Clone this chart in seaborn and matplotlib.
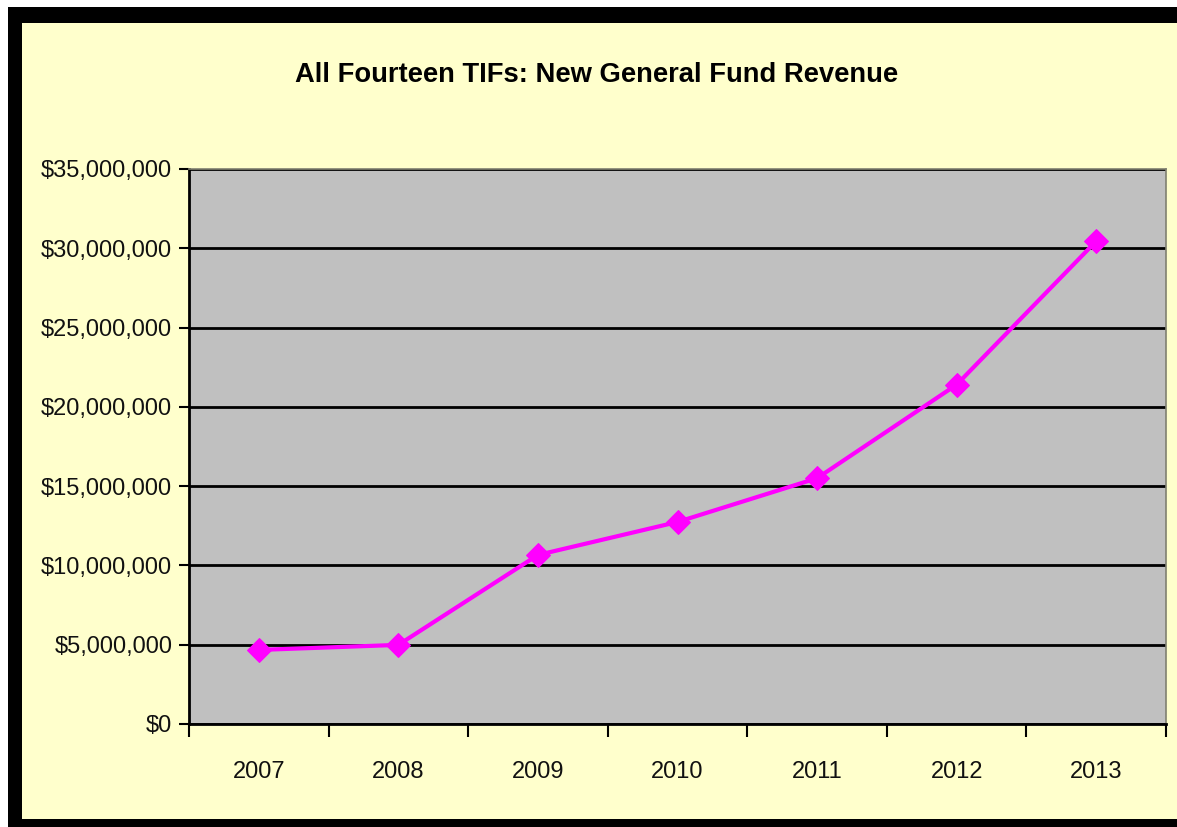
import matplotlib
matplotlib.use("Agg")
import matplotlib.pyplot as plt
from matplotlib.patches import Rectangle
from matplotlib.ticker import FuncFormatter, FixedLocator
import pandas as pd
import seaborn as sns

years = ["2007", "2008", "2009", "2010", "2011", "2012", "2013"]
revenue = [4_670_000, 4_990_000, 10_660_000, 12_740_000, 15_500_000, 21_400_000, 30_450_000]
title = "All Fourteen TIFs: New General Fund Revenue"

df = pd.DataFrame({"year": years, "revenue": revenue})

sns.set_style("white")
plt.rcParams["font.family"] = ["Liberation Sans", "DejaVu Sans"]

fig = plt.figure(figsize=(11.77, 8.27), dpi=100)
fig.patch.set_facecolor("white")

# black frame and pale yellow chart area
fig.add_artist(Rectangle((8 / 1177, 0), 1, 1 - 7 / 827, transform=fig.transFigure,
                         facecolor="black", edgecolor="none", zorder=-3))
fig.add_artist(Rectangle((22 / 1177, 8 / 827), 1, 1 - 23 / 827 - 8 / 827,
                         transform=fig.transFigure, facecolor="#FFFFCC",
                         edgecolor="none", zorder=-2))

ax = fig.add_axes([189 / 1177, 103 / 827, (1166 - 189) / 1177, (724 - 169) / 827])
ax.set_facecolor("#C0C0C0")

sns.lineplot(data=df, x="year", y="revenue", ax=ax, color="#FF00FF", linewidth=3,
             marker="D", markersize=12, markeredgecolor="#FF00FF", sort=False, zorder=3)

ax.set_ylim(0, 35_000_000)
ax.set_yticks(range(0, 35_000_001, 5_000_000))
ax.yaxis.set_major_formatter(FuncFormatter(lambda v, p: f"${v:,.0f}"))
ax.set_xlim(-0.5, len(years) - 0.5)
ax.xaxis.set_minor_locator(FixedLocator([i - 0.5 for i in range(len(years) + 1)]))

ax.grid(axis="y", color="black", linewidth=2)
ax.set_axisbelow(True)

for side in ["left", "bottom"]:
    ax.spines[side].set_color("black")
    ax.spines[side].set_linewidth(2)
for side in ["top", "right"]:
    ax.spines[side].set_color("#808070")
    ax.spines[side].set_linewidth(1.2)

ax.tick_params(axis="y", which="major", direction="out", length=7, width=1.5,
               color="black", labelsize=17, pad=5, left=True, labelcolor="#111111")
ax.tick_params(axis="x", which="major", length=0, labelsize=17, pad=27,
               labelcolor="#111111")
ax.tick_params(axis="x", which="minor", direction="out", length=9, width=1.5,
               color="black", bottom=True)

ax.set_xlabel("")
ax.set_ylabel("")

fig.text(597 / 1177, 1 - 75 / 827, title, ha="center", va="center",
         fontsize=19.7, fontweight="bold", color="black")

fig.savefig("out.png", dpi=100, facecolor=fig.get_facecolor())
